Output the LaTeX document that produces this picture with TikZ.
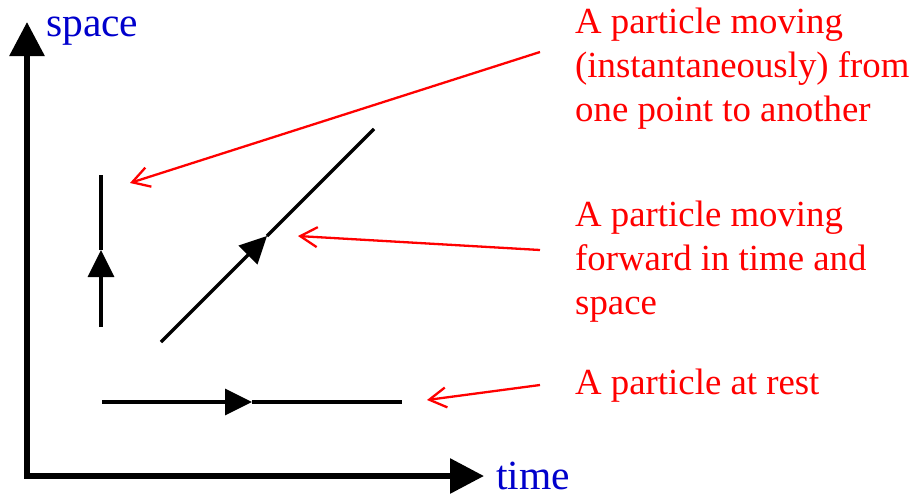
\documentclass[tikz,border=0pt]{standalone}
\usepackage{fontspec}
\setmainfont{Liberation Serif}
\usepackage{tikz}
\usetikzlibrary{arrows.meta,positioning}
\definecolor{axisblue}{RGB}{0,0,204}
\definecolor{notered}{RGB}{255,0,0}

\begin{document}
\begin{tikzpicture}[x=1pt,y=-1pt,
  axis/.style={line width=6pt,{Triangle[length=34pt,width=34pt]}-{Triangle[length=34pt,width=34pt]}},
  worldline/.style={line width=3.5pt},
  worldhead/.style={line width=3.5pt,-{Triangle[length=27pt,width=26pt]}},
  note/.style={text=notered,font=\fontsize{36.8}{44}\selectfont,align=left,anchor=base west,inner sep=0pt},
  pointer/.style={draw=notered,line width=2.3pt,-{Straight Barb[length=17pt,width=20pt]}},
  axlabel/.style={text=axisblue,font=\fontsize{41.5}{48}\selectfont,anchor=base west,inner sep=0pt}]
  \useasboundingbox (0,0) rectangle (917,493);

  % axes
  \coordinate (origin) at (27,476);
  \coordinate (spacetip) at (27,22);
  \coordinate (timetip) at (484,476);
  \draw[axis] (spacetip) -- (origin) -- (timetip);
  \node[axlabel] (spacelbl) at (46,36) {space};
  \node[axlabel] (timelbl) at (496,489) {time};

  % particle paths
  \coordinate (jumpstart) at (101,327);
  \coordinate (jumpmid) at (101,250);
  \coordinate (jumpend) at (101,175);
  \draw[worldhead] (jumpstart) -- (jumpmid);
  \draw[worldline] (jumpmid) -- (jumpend);

  \coordinate (movestart) at (161,342);
  \coordinate (movemid) at (267,236);
  \coordinate (moveend) at (374,129);
  \draw[worldhead] (movestart) -- (movemid);
  \draw[worldline] (movemid) -- (moveend);

  \coordinate (reststart) at (102,402);
  \coordinate (restmid) at (252,402);
  \coordinate (restend) at (402,402);
  \draw[worldhead] (reststart) -- (restmid);
  \draw[worldline] (restmid) -- (restend);

  % notes
  \node[note] (jumpnote) at (575,121) {A particle moving\\(instantaneously) from\\one point to another};
  \node[note] (movenote) at (575,314) {A particle moving\\forward in time and\\space};
  \node[note] (restnote) at (575,394) {A particle at rest};

  \coordinate (jumptail) at (540,52);
  \coordinate (jumptip) at (130,183);
  \coordinate (movetail) at (540,250);
  \coordinate (movetip) at (298,236);
  \coordinate (resttail) at (540,385);
  \coordinate (resttip) at (427,400);
  \draw[pointer] (jumptail) -- (jumptip);
  \draw[pointer] (movetail) -- (movetip);
  \draw[pointer] (resttail) -- (resttip);
\end{tikzpicture}
\end{document}
